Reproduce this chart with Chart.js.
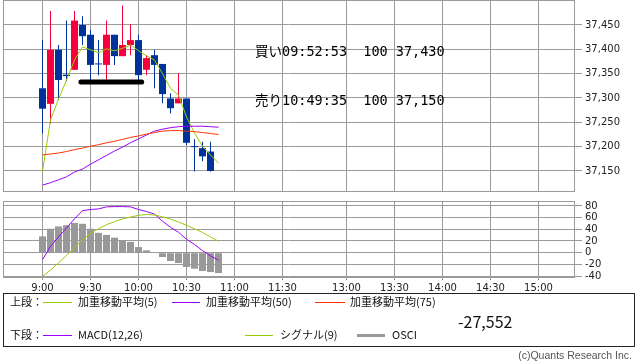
<!DOCTYPE html>
<html><head><meta charset="utf-8">
<script src="https://cdn.jsdelivr.net/npm/chart.js@4.4.0/dist/chart.umd.min.js"></script>
<style>
body{margin:0;background:#fff;}
#wrap{position:relative;width:638px;height:362px;overflow:hidden;background:#fff;font-family:'Noto Sans CJK JP',sans-serif;color:#111;}
canvas{position:absolute;left:0;}
.t{position:absolute;white-space:pre;line-height:1;}
.ann{font-family:'DejaVu Sans Mono','Noto Sans CJK JP',monospace;font-size:13.5px;color:#000;}
.lg{font-size:11px;color:#111;}
.ln{position:absolute;height:1px;}
#box{position:absolute;left:3px;top:293px;width:632px;height:54px;border:1px solid #222;box-sizing:border-box;}
</style></head><body>
<div id="wrap">
<canvas id="c1" width="638" height="192" style="top:0"></canvas>
<canvas id="c2" width="638" height="96" style="top:200px"></canvas>
<div class="t ann" style="left:255px;top:45px">買い09:52:53  100 37,430</div>
<div class="t ann" style="left:255px;top:94px">売り10:49:35  100 37,150</div>
<div id="box"></div>
<div class="t lg" style="left:10px;top:296px">上段：</div>
<div class="ln" style="left:43px;top:302px;width:29px;background:#99cc00"></div>
<div class="t lg" style="left:78px;top:296px">加重移動平均(5)</div>
<div class="ln" style="left:172px;top:302px;width:28px;background:#9900ff"></div>
<div class="t lg" style="left:206px;top:296px">加重移動平均(50)</div>
<div class="ln" style="left:315px;top:302px;width:30px;background:#ff3300"></div>
<div class="t lg" style="left:350px;top:296px">加重移動平均(75)</div>
<div class="t" style="left:458px;top:313px;font-size:16px;color:#111">-27,552</div>
<div class="t lg" style="left:10px;top:329px">下段：</div>
<div class="ln" style="left:43px;top:335px;width:29px;background:#9900ff"></div>
<div class="t lg" style="left:78px;top:329px">MACD(12,26)</div>
<div class="ln" style="left:245px;top:335px;width:28px;background:#99cc00"></div>
<div class="t lg" style="left:280px;top:329px">シグナル(9)</div>
<div class="ln" style="left:357px;top:334px;width:28px;height:3px;background:#999"></div>
<div class="t lg" style="left:392px;top:329px">OSCI</div>
<div class="t" style="right:6px;top:350px;font-family:'Liberation Sans',sans-serif;font-size:10.5px;color:#555">(c)Quants Research Inc.</div>
</div>
<script>
// ---- data ----
const candleTimes = ['9:00','9:05','9:10','9:15','9:20','9:25','9:30','9:35','9:40','9:45','9:50','9:55','10:00','10:05','10:10','10:15','10:20','10:25','10:30','10:35','10:40','10:45'];
const opens  = [37320,37288,37399,37348,37358,37450,37430,37370,37368,37430,37386,37409,37419,37358,37388,37370,37299,37289,37299,37201,37197,37190];
const highs  = [37419,37479,37409,37459,37479,37468,37440,37419,37459,37430,37490,37452,37430,37388,37399,37370,37310,37351,37299,37215,37210,37210];
const lows   = [37227,37247,37296,37334,37358,37409,37337,37347,37338,37368,37386,37388,37337,37347,37320,37289,37268,37289,37203,37149,37170,37149];
const closes = [37278,37399,37337,37345,37459,37427,37368,37369,37430,37386,37409,37419,37347,37382,37368,37308,37279,37299,37208,37199,37180,37150];

const maTimes = ['9:00','9:05','9:10','9:15','9:20','9:25','9:30','9:35','9:40','9:45','9:50','9:55','10:00','10:05','10:10','10:15','10:20','10:25','10:30','10:35','10:40','10:45','10:50'];
const wma5  = [37149,37255,37298,37337,37378,37405,37399,37393,37401,37397,37402,37409,37397,37387,37378,37350,37320,37306,37261,37228,37201,37183,37166];
const wma50 = [37121,37126,37132,37138,37148,37154,37164,37173,37182,37191,37199,37208,37216,37224,37232,37236,37239,37241,37242,37242,37242,37241,37240];
const wma75 = [37183,37185,37187,37190,37194,37197,37201,37204,37208,37211,37215,37219,37222,37226,37229,37232,37233,37233,37232,37231,37229,37227,37225];

const macd   = [-12,11,27,42.5,58,72,74,75,78.5,79,79,78.5,74,70.5,66,54,43.5,35,23,14,3.5,-5.5,-13];
const signal = [-40.6,-30,-17.5,-4.5,8,22.5,33,41,48,53,58,61,64,65.5,64.5,61.5,57.5,52.5,47,41,34.5,27,19.5];
const osci   = [28,41,45,47,51,49.5,41,34,30.5,25.7,21,18.5,9.6,4,0.5,-7.5,-14.3,-17.8,-24.6,-27.5,-31.5,-33.2,-35];

const markTimes = ['9:24','10:02'];
const markLevel = 37333;

const axisTimes  = ['9:00','9:30','10:00','10:30','11:00','11:30','13:00','13:30','14:00','14:30','15:00'];
const priceTicks = [37150,37200,37250,37300,37350,37400,37450];
const oscTicks   = [-40,-20,0,20,40,60,80];

// ---- helpers ----
const GRID = '#9a9a9a', RED = '#f5003d', BLUE = '#003399', GREEN = '#99cc00', PURPLE = '#9900ff', ORANGE = '#ff3300';
function toAxis(s){ const p = s.split(':').map(Number); let v = (p[0]-9)*60 + p[1]; if (v > 150) v -= 50; return v; }
const X_MIN = -24.6875, X_MAX = 332.1875;
Chart.defaults.font.family = 'DejaVu Sans';

const boxPlugin = { id:'box', beforeDatasetsDraw(chart){ const {ctx, chartArea:a} = chart; ctx.save(); ctx.strokeStyle = GRID; ctx.lineWidth = 1; ctx.strokeRect(a.left+0.5, a.top+0.5, a.right-a.left, a.bottom-a.top); ctx.restore(); } };

function xScale(showLabels){
  return {
    type:'linear', min:X_MIN, max:X_MAX, offset:false, bounds:'data',
    afterBuildTicks: s => { s.ticks = axisTimes.map(t => ({value: toAxis(t)})); },
    afterFit: s => { s.height = showLabels ? 19 : 1; s.paddingLeft = 0; s.paddingRight = 0; },
    grid:{color:GRID, lineWidth:1, drawTicks:showLabels, tickLength:3, offset:false},
    border:{display:false},
    ticks:{display:showLabels, autoSkip:false, maxRotation:0, padding:2, font:{size:10}, color:'#222', callback:(v,i) => axisTimes[i]}
  };
}
function yScale(min, max, ticks, fmt){
  return {
    position:'right', min, max, bounds:'data',
    afterBuildTicks: s => { s.ticks = ticks.map(v => ({value:v})); },
    afterFit: s => { s.width = 64; s.paddingTop = 0; s.paddingBottom = 0; },
    grid:{color:GRID, lineWidth:1, drawTicks:true, tickLength:8},
    border:{display:false},
    ticks:{autoSkip:false, padding:3, font:{size:10}, color:'#222', callback: fmt}
  };
}
const common = { responsive:false, animation:false, events:[],
  plugins:{legend:{display:false}, tooltip:{enabled:false}} };

const candleX = candleTimes.map(toAxis);
const candleColors = closes.map((c,i) => c >= opens[i] ? RED : BLUE);
const line = (times, vals, color, w) => ({ type:'line', data: vals.map((v,i) => ({x: toAxis(times[i]), y: v})),
  borderColor: color, borderWidth: w || 1, pointRadius: 0, tension: 0, fill:false, order: 0 });

new Chart(document.getElementById('c1'), {
  type:'line',
  data:{ datasets:[
    line(maTimes, wma75, ORANGE),
    line(maTimes, wma50, PURPLE),
    line(maTimes, wma5, GREEN),
    Object.assign(line(markTimes, markTimes.map(() => markLevel), '#000', 5), {borderCapStyle:'round'}),
    { type:'bar', data: candleX.map((x,i) => ({x, y:[opens[i], closes[i]]})), backgroundColor: candleColors,
      barThickness:7, grouped:false, minBarLength:1, inflateAmount:0, borderWidth:0, order:1 },
    { type:'bar', data: candleX.map((x,i) => ({x, y:[lows[i], highs[i]]})), backgroundColor: candleColors,
      barThickness:1, grouped:false, inflateAmount:0, borderWidth:0, order:2 }
  ]},
  options: Object.assign({}, common, {
    layout:{padding:{left:3, top:0, right:0, bottom:0}},
    scales:{ x: xScale(false), y: yScale(37108.9, 37501.37, priceTicks, v => Number(v).toLocaleString('en-US')) }
  }),
  plugins:[boxPlugin]
});

new Chart(document.getElementById('c2'), {
  type:'line',
  data:{ datasets:[
    line(maTimes, signal, GREEN),
    line(maTimes, macd, PURPLE),
    { type:'bar', data: osci.map((v,i) => ({x: toAxis(maTimes[i]), y: v})), backgroundColor:'#999999',
      barThickness:7, grouped:false, inflateAmount:0, borderWidth:0, order:1 }
  ]},
  options: Object.assign({}, common, {
    layout:{padding:{left:3, top:1, right:0, bottom:0}},
    scales:{ x: xScale(true), y: yScale(-41.714, 88.571, oscTicks, v => String(v)) }
  }),
  plugins:[boxPlugin]
});
</script>
</body></html>
